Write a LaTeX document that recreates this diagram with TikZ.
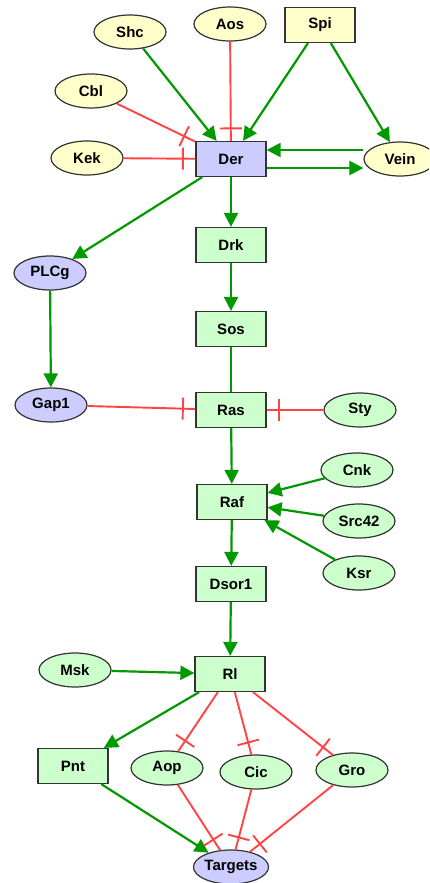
\documentclass[tikz,border=0pt]{standalone}
\usepackage{fontspec}
\setmainfont{Liberation Sans}
\usetikzlibrary{shapes.geometric,arrows.meta,decorations.markings}
\definecolor{yfill}{HTML}{FFFFCC}
\definecolor{bfill}{HTML}{CCCCFF}
\definecolor{gfill}{HTML}{CCFFCC}
\definecolor{actc}{HTML}{009900}
\definecolor{inhc}{HTML}{FF4444}
\definecolor{bordc}{HTML}{333333}
\tikzset{
  base/.style={draw=bordc, line width=1.2pt, inner sep=0pt, font=\bfseries\fontsize{15}{15}\selectfont},
  rbox/.style={base, rectangle, minimum width=70pt, minimum height=35pt},
  ebox/.style={base, ellipse, minimum width=72pt, minimum height=34pt},
  yel/.style={fill=yfill}, blu/.style={fill=bfill}, grn/.style={fill=gfill},
  act/.style={draw=actc, line width=2.2pt, -{Triangle[length=14pt,width=14pt]}},
  inh/.style={draw=inhc, line width=1.9pt, postaction={decorate},
    decoration={markings, mark=at position -12.5pt with {\draw[inhc, line width=1.9pt] (0pt,-11pt) -- (0pt,11pt);}}}
}
\begin{document}
\begin{tikzpicture}[x=1pt,y=-1pt]
\clip (0,0) rectangle (429,883);
\fill[white] (0,0) rectangle (429,883);
% nodes
\node[ebox,yel] (Shc) at (130,32) {Shc};
\node[ebox,yel] (Aos) at (230,24) {Aos};
\node[rbox,yel] (Spi) at (320,25) {Spi};
\node[ebox,yel] (Cbl) at (91,91) {Cbl};
\node[ebox,yel] (Kek) at (87,158) {Kek};
\node[rbox,blu] (Der) at (231,159) {Der};
\node[ebox,yel] (Vein) at (400,159) {Vein};
\node[ebox,blu] (PLCg) at (50,273) {PLCg};
\node[rbox,grn] (Drk) at (231,245) {Drk};
\node[rbox,grn] (Sos) at (231,329) {Sos};
\node[ebox,blu] (Gap1) at (51,405) {Gap1};
\node[rbox,grn] (Ras) at (231,410) {Ras};
\node[ebox,grn] (Sty) at (360,410) {Sty};
\node[ebox,grn] (Cnk) at (357,470) {Cnk};
\node[rbox,grn] (Raf) at (232,502) {Raf};
\node[ebox,grn] (Src42) at (359,521) {Src42};
\node[ebox,grn] (Ksr) at (359,573) {Ksr};
\node[rbox,grn] (Dsor1) at (231,584) {Dsor1};
\node[ebox,grn] (Msk) at (75,670) {Msk};
\node[rbox,grn] (Rl) at (230,674) {Rl};
\node[rbox,grn] (Pnt) at (73,766) {Pnt};
\node[ebox,grn] (Aop) at (167,768) {Aop};
\node[ebox,grn] (Cic) at (256,772) {Cic};
\node[ebox,grn] (Gro) at (352,770) {Gro};
\node[ebox,blu] (Targets) at (231,867) {Targets};
% activations
\draw[act] (Shc) -- (Der);
\draw[act] (Spi) -- (Der);
\draw[act] (Spi) -- (Vein);
\draw[act] ([yshift=9pt]Vein.west) -- ([yshift=9pt]Der.east);
\draw[act] ([yshift=-9pt]Der.east) -- ([yshift=-9pt]Vein.west);
\draw[act] (Der) -- (PLCg);
\draw[act] (Der) -- (Drk);
\draw[act] (Drk) -- (Sos);
\draw[draw=actc, line width=2.2pt] (Sos) -- (Ras);
\draw[act] (PLCg) -- (Gap1);
\draw[act] (Ras) -- (Raf);
\draw[act] (Cnk) -- (Raf);
\draw[act] (Src42) -- (Raf);
\draw[act] (Ksr) -- (Raf);
\draw[act] (Raf) -- (Dsor1);
\draw[act] (Dsor1) -- (Rl);
\draw[act] (Msk) -- (Rl);
\draw[act] (Rl) -- (Pnt);
\draw[act] (Pnt) -- (Targets);
% inhibitions
\draw[inh] (Aos) -- (Der);
\draw[inh] (Cbl) -- (Der);
\draw[inh] (Kek) -- (Der);
\draw[inh] (Gap1) -- (Ras);
\draw[inh] (Sty) -- (Ras);
\draw[inh] (Rl) -- (Aop);
\draw[inh] (Rl) -- (Cic);
\draw[inh] (Rl) -- (Gro);
\draw[inh] (Aop) -- (Targets);
\draw[inh] (Cic) -- (Targets);
\draw[inh] (Gro) -- (Targets);
\end{tikzpicture}
\end{document}
